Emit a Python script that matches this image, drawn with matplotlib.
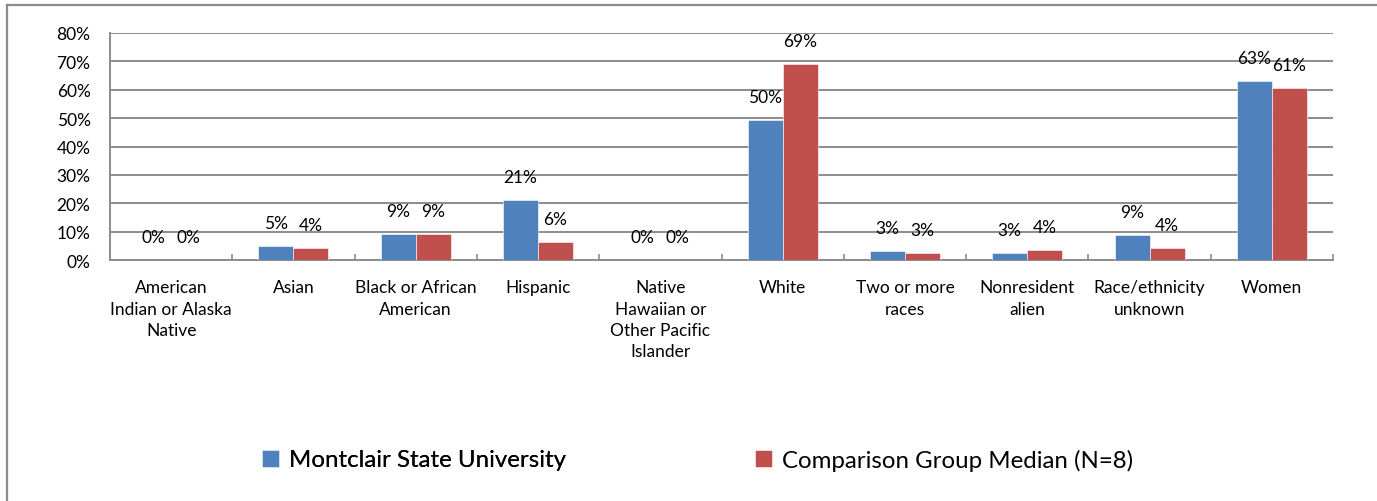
import numpy as np
import matplotlib.pyplot as plt
from matplotlib.lines import Line2D

plt.rcParams['font.family'] = ['Lato', 'DejaVu Sans']

categories = ["American\nIndian or Alaska\nNative", "Asian", "Black or African\nAmerican",
              "Hispanic", "Native\nHawaiian or\nOther Pacific\nIslander", "White",
              "Two or more\nraces", "Nonresident\nalien", "Race/ethnicity\nunknown", "Women"]
montclair = [0.0, 4.9, 9.2, 21.1, 0.0, 49.5, 3.1, 2.6, 8.7, 63.0]
comparison = [0.0, 4.2, 9.2, 6.3, 0.0, 69.0, 2.5, 3.5, 4.1, 60.6]
montclair_labels = ["0%", "5%", "9%", "21%", "0%", "50%", "3%", "3%", "9%", "63%"]
comparison_labels = ["0%", "4%", "9%", "6%", "0%", "69%", "3%", "4%", "4%", "61%"]
series_names = ["Montclair State University", "Comparison Group Median (N=8)"]

blue = '#4F81BD'
red = '#C0504D'
grid = '#8C8C8C'

fig = plt.figure(figsize=(13.77, 5.02), dpi=100)
ax = fig.add_axes([110 / 1377, 1 - 261 / 502, (1333 - 110) / 1377, (261 - 34) / 502])

x = np.arange(len(categories))
w = 0.286
b1 = ax.bar(x - w / 2, montclair, w, color=blue, edgecolor='white', linewidth=0.4, zorder=3)
b2 = ax.bar(x + w / 2, comparison, w, color=red, edgecolor='white', linewidth=0.4, zorder=3)

for rects, labels in ((b1, montclair_labels), (b2, comparison_labels)):
    for r, lab in zip(rects, labels):
        ax.annotate(lab, (r.get_x() + r.get_width() / 2, r.get_height()),
                    xytext=(0, 16.5), textcoords='offset points',
                    ha='center', va='center', fontsize=12.5, color='black')

ax.set_xlim(-0.5, len(categories) - 0.5)
ax.set_ylim(0, 80)
ax.set_yticks(range(0, 81, 10))
ax.set_yticklabels([f"{v}%" for v in range(0, 81, 10)], fontsize=12.5)
ax.yaxis.grid(True, color=grid, linewidth=1.4, zorder=0)
ax.tick_params(axis='y', length=0, pad=14)

ax.set_xticks(x)
ax.set_xticklabels(categories, fontsize=12.5, linespacing=1.4, va='top')
ax.set_xticks(np.arange(len(categories) + 1) - 0.5, minor=True)
ax.tick_params(axis='x', which='major', length=0, pad=14)
ax.tick_params(axis='x', which='minor', direction='in', length=4, color=grid, width=1.2)

for s in ('top', 'right'):
    ax.spines[s].set_visible(False)
for s in ('left', 'bottom'):
    ax.spines[s].set_color(grid)
    ax.spines[s].set_linewidth(1.4)

# outer chart border
fig.add_artist(Line2D([7 / 1377, 7 / 1377], [-0.1, 1 - 6 / 502], transform=fig.transFigure,
                      color=grid, linewidth=1.6))
fig.add_artist(Line2D([7 / 1377, 1.1], [1 - 6 / 502, 1 - 6 / 502], transform=fig.transFigure,
                      color=grid, linewidth=1.6))

ly = 1 - 461 / 502
leg1 = fig.legend([b1], [series_names[0]], loc='center left', bbox_to_anchor=(240 / 1377, ly),
                  frameon=False, fontsize=17.3, handlelength=0.72, handleheight=0.72,
                  handletextpad=0.4)
fig.legend([b2], [series_names[1]], loc='center left', bbox_to_anchor=(733 / 1377, ly),
           frameon=False, fontsize=17.3, handlelength=0.72, handleheight=0.72,
           handletextpad=0.4)
fig.add_artist(leg1)

fig.savefig('out.png', dpi=100)
